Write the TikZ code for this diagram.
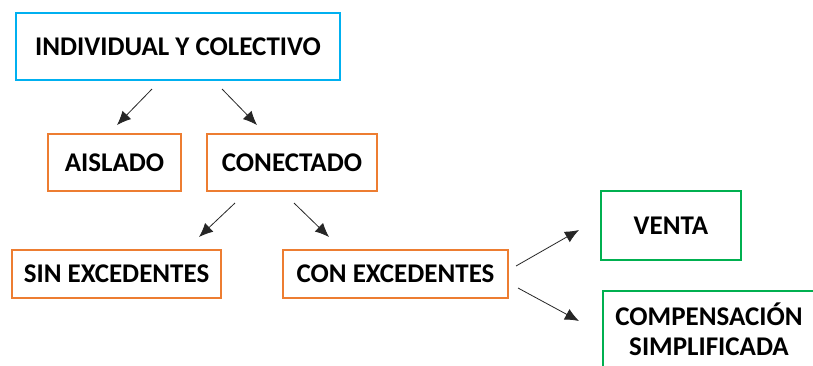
\documentclass[tikz,border=0pt]{standalone}
\usepackage{fontspec}
\setmainfont{Carlito}
\usetikzlibrary{arrows.meta}
\definecolor{cblue}{RGB}{0,176,240}
\definecolor{corange}{RGB}{237,125,49}
\definecolor{cgreen}{RGB}{0,176,80}
\tikzset{
  box/.style={draw, line width=2pt, inner sep=0pt, font=\fontsize{27}{30}\selectfont\bfseries, align=center},
  conn/.style={line width=0.8pt, draw=black!85, -{Latex[length=14pt,width=12pt]}}
}
\begin{document}
\begin{tikzpicture}[x=1pt,y=-1pt]
\clip (0,0) rectangle (813,365);
\fill[white] (0,0) rectangle (813,365);
\node[box, draw=cblue, minimum width=324pt, minimum height=67pt] (ind) at (178,46.5) {INDIVIDUAL Y COLECTIVO};
\node[box, draw=corange, minimum width=133pt, minimum height=57pt] (ais) at (114.5,162.5) {AISLADO};
\node[box, draw=corange, minimum width=170pt, minimum height=57pt] (con) at (292,162.5) {CONECTADO};
\node[box, draw=corange, minimum width=209pt, minimum height=48pt] (sin) at (116.5,274) {SIN EXCEDENTES};
\node[box, draw=corange, minimum width=225pt, minimum height=48pt] (cex) at (395.5,274) {CON EXCEDENTES};
\node[box, draw=cgreen, minimum width=140pt, minimum height=69pt] (ven) at (671,225.5) {VENTA};
\node[box, draw=cgreen, minimum width=212pt, minimum height=76pt] (comp) at (709,329) {COMPENSACIÓN\\SIMPLIFICADA};
\coordinate (a1s) at (152,89);  \coordinate (a1e) at (117,125);
\coordinate (a2s) at (222,89);  \coordinate (a2e) at (257,125);
\coordinate (a3s) at (235,203); \coordinate (a3e) at (199,237);
\coordinate (a4s) at (294,203); \coordinate (a4e) at (329,237);
\coordinate (a5s) at (516,266); \coordinate (a5e) at (579,230);
\coordinate (a6s) at (518,288); \coordinate (a6e) at (579,321);
\draw[conn] (a1s) -- (a1e);
\draw[conn] (a2s) -- (a2e);
\draw[conn] (a3s) -- (a3e);
\draw[conn] (a4s) -- (a4e);
\draw[conn] (a5s) -- (a5e);
\draw[conn] (a6s) -- (a6e);
\end{tikzpicture}
\end{document}
